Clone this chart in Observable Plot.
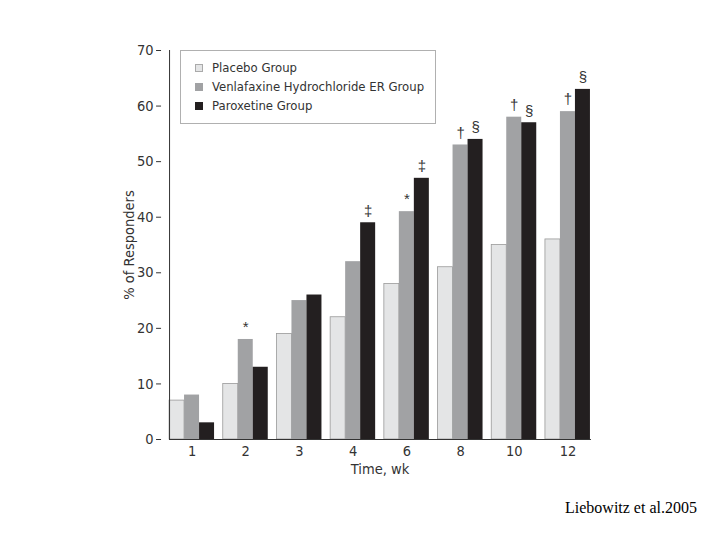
<!DOCTYPE html>
<html><head><meta charset="utf-8">
<script src="https://cdn.jsdelivr.net/npm/d3@7"></script>
<script src="https://cdn.jsdelivr.net/npm/@observablehq/plot@0.6"></script>
<style>
body{margin:0;background:#fff;}
#wrap{position:relative;width:720px;height:540px;font-family:"DejaVu Sans Condensed","Liberation Sans Narrow","Liberation Sans",sans-serif;font-stretch:condensed;}
#legend{position:absolute;left:180px;top:50px;width:256px;height:74px;border:1px solid #b0b0b0;box-sizing:border-box;background:#fff;padding:7px 0 0 14px;font-size:13px;color:#333;white-space:nowrap;}
#legend div{height:19px;line-height:19px;display:flex;align-items:center;}
#legend span.sw{display:inline-block;width:8px;height:8px;margin-right:9px;box-sizing:border-box;flex:none;}
#caption{position:absolute;left:565px;top:499px;font-family:"Liberation Serif","Times New Roman",serif;font-size:16px;color:#000;white-space:nowrap;}
</style></head>
<body><div id="wrap"></div>
<script>
const weeks = ["1","2","3","4","6","8","10","12"];
const groups = ["Placebo Group","Venlafaxine Hydrochloride ER Group","Paroxetine Group"];
const placebo = [7,10,19,22,28,31,35,36];
const venlafaxine = [8,18,25,32,41,53,58,59];
const paroxetine = [3,13,26,39,47,54,57,63];
const venlafaxineMarks = ["","*","","","*","†","†","†"];
const paroxetineMarks = ["","","","‡","‡","§","§","§"];
const yTicks = [0,10,20,30,40,50,60,70];
const colors = ["#e4e5e6","#a1a2a4","#231f20"];

const series = [placebo, venlafaxine, paroxetine];
const marksBy = [weeks.map(()=>""), venlafaxineMarks, paroxetineMarks];
const data = [];
weeks.forEach((w,i)=>groups.forEach((g,j)=>data.push({week:w, group:g, value:series[j][i], note:marksBy[j][i]})));
const notes = data.filter(d=>d.note);

const font = '"DejaVu Sans Condensed","Liberation Sans Narrow","Liberation Sans",sans-serif';
const wrap = document.getElementById("wrap");
const plot = Plot.plot({
  width:720, height:540,
  marginLeft:161, marginRight:122, marginTop:50, marginBottom:101,
  style:{fontFamily:font, fontSize:"14px", color:"#333", background:"#fff"},
  fx:{domain:weeks, paddingInner:0.162, paddingOuter:0.15, round:false, label:"Time, wk", axis:null},
  x:{domain:groups, padding:0, round:false, axis:null},
  y:{domain:[0,70], axis:null},
  color:{domain:groups, range:colors},
  marks:[
    Plot.barY(data,{fx:"week", x:"group", y:"value", fill:"group", stroke:d=>d.group===groups[0]?"#9a9a9a":"none", strokeWidth:0.8}),
    Plot.text(notes,{fx:"week", x:"group", y:"value", text:"note", dy:-12, fontSize:15, fill:"#333", fontFamily:'"Liberation Sans","DejaVu Sans",sans-serif'}),
    Plot.axisY({ticks:yTicks, dx:-8, tickSize:5, tickPadding:3, label:"% of Responders", labelArrow:"none", labelAnchor:"center", labelOffset:46, fontSize:14}),
    Plot.frame({anchor:"bottom", facet:"super", stroke:"#333"}),
    Plot.frame({anchor:"left", facet:"super", stroke:"#333"}),
    Plot.axisFx({anchor:"bottom", tickSize:0, tickPadding:6, label:"Time, wk", labelArrow:"none", labelAnchor:"center", labelOffset:34, fontSize:14})
  ]
});
wrap.appendChild(plot);
plot.querySelectorAll("g[aria-label$='label'] text, text[aria-label$='label']").forEach(t=>t.setAttribute("font-size","14.5"));

const leg = document.createElement("div");
leg.id = "legend";
groups.forEach((g,j)=>{
  const row = document.createElement("div");
  const sw = document.createElement("span");
  sw.className = "sw";
  sw.style.background = colors[j];
  if (j===0) sw.style.border = "1px solid #aaa";
  row.appendChild(sw);
  row.appendChild(document.createTextNode(g));
  leg.appendChild(row);
});
wrap.appendChild(leg);

const cap = document.createElement("div");
cap.id = "caption";
cap.textContent = "Liebowitz et al.2005";
wrap.appendChild(cap);
</script></body></html>
